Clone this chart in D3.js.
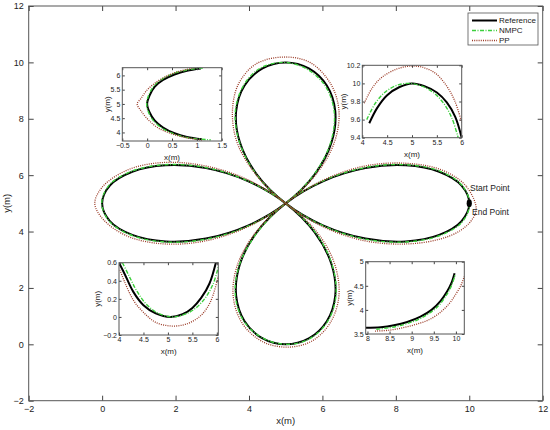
<!DOCTYPE html>
<html>
<head>
<meta charset="utf-8">
<script src="https://cdn.jsdelivr.net/npm/d3@7"></script>
<style>
  body { margin: 0; background: #fff; }
  svg { font-family: "Liberation Sans", Arial, sans-serif; }
</style>
</head>
<body>
<svg id="chart" width="550" height="430"></svg>
<script>
// ---- data (metres) ----
const seriesNames = ["Reference", "NMPC", "PP"];

// full clover trajectory
const refPath = [[10,5],[9.79,5.63],[9.18,6.12],[8.27,6.35],[7.17,6.25],[6.03,5.79],[5,5],
  [4.21,3.97],[3.75,2.83],[3.65,1.73],[3.88,0.82],[4.37,0.21],[5,0],[5.63,0.21],[6.12,0.82],
  [6.35,1.73],[6.25,2.83],[5.79,3.97],[5,5],[3.97,5.79],[2.83,6.25],[1.73,6.35],[0.82,6.12],
  [0.21,5.63],[0,5],[0.21,4.37],[0.82,3.88],[1.73,3.65],[2.83,3.75],[3.97,4.21],[5,5],
  [5.79,6.03],[6.25,7.17],[6.35,8.27],[6.12,9.18],[5.63,9.79],[5,10],[4.37,9.79],[3.88,9.18],
  [3.65,8.27],[3.75,7.17],[4.21,6.03],[5,5],[6.03,4.21],[7.17,3.75],[8.27,3.65],[9.18,3.88],[9.79,4.37]];
const nmpcPath = [[10.01,4.98],[9.8,5.64],[9.2,6.14],[8.28,6.37],[7.17,6.27],[6.02,5.8],[5,5],
  [4.22,3.96],[3.74,2.82],[3.63,1.72],[3.87,0.8],[4.42,0.19],[5.08,0],[5.68,0.22],[6.15,0.83],
  [6.37,1.74],[6.26,2.84],[5.8,3.98],[5,5],[3.96,5.8],[2.82,6.27],[1.71,6.37],[0.79,6.13],
  [0.18,5.63],[-0.01,5],[0.2,4.36],[0.82,3.86],[1.73,3.63],[2.83,3.73],[3.97,4.19],[5,5],
  [5.78,6.04],[6.23,7.18],[6.32,8.27],[6.07,9.18],[5.55,9.78],[4.95,10],[4.3,9.79],[3.85,9.18],
  [3.63,8.27],[3.74,7.17],[4.2,6.03],[5,5],[6.03,4.2],[7.17,3.73],[8.27,3.63],[9.18,3.85],[9.8,4.33]];
const ppPath = [[10.19,4.8],[9.92,5.6],[9.28,6.17],[8.3,6.42],[7.18,6.33],[6.05,5.84],[5,5],
  [4.17,3.95],[3.68,2.8],[3.57,1.7],[3.82,0.74],[4.36,0.1],[5.05,-0.1],[5.72,0.12],[6.22,0.78],
  [6.45,1.72],[6.33,2.86],[5.84,4],[5,5],[3.95,5.85],[2.8,6.33],[1.68,6.45],[0.72,6.2],
  [0.02,5.6],[-0.2,5],[0.05,4.4],[0.72,3.82],[1.7,3.56],[2.82,3.67],[3.97,4.17],[5,5],
  [5.84,6.05],[6.33,7.18],[6.45,8.3],[6.22,9.25],[5.66,10],[4.95,10.19],[4.2,9.95],[3.72,9.25],
  [3.55,8.3],[3.67,7.18],[4.17,6.05],[5,5],[6.05,4.15],[7.2,3.66],[8.3,3.56],[9.2,3.73],
  [9.75,4.03],[10.05,4.38]];

// zoom: left tip
const refLeft = [[1.08,6.24],[0.8,6.16],[0.55,6.03],[0.32,5.84],[0.15,5.6],[0.05,5.3],[0,5],
  [0.05,4.7],[0.15,4.42],[0.32,4.17],[0.55,3.97],[0.8,3.84],[1.1,3.76]];
const nmpcLeft = [[1.12,6.26],[0.8,6.19],[0.52,6.06],[0.3,5.87],[0.13,5.62],[0.03,5.3],[-0.01,5],
  [0.03,4.7],[0.13,4.4],[0.3,4.15],[0.55,3.94],[0.85,3.81],[1.28,3.74]];
const ppLeft = [[0.95,6.27],[0.6,6.12],[0.36,5.95],[0.15,5.72],[-0.02,5.45],[-0.12,5.2],[-0.2,5],
  [-0.12,4.75],[0.02,4.45],[0.2,4.18],[0.45,3.98],[0.75,3.83],[1.1,3.73]];

// zoom: top tip
const refTop = [[4.14,9.56],[4.3,9.73],[4.5,9.87],[4.75,9.96],[5,10],[5.25,9.97],[5.5,9.9],
  [5.7,9.79],[5.87,9.63],[6,9.4]];
const nmpcTop = [[4.09,9.6],[4.25,9.77],[4.45,9.9],[4.7,9.98],[4.95,10],[5.2,9.97],[5.45,9.89],
  [5.65,9.77],[5.8,9.62],[5.93,9.4]];
const ppTop = [[4.04,9.78],[4.2,9.95],[4.4,10.07],[4.7,10.16],[4.95,10.19],[5.2,10.18],[5.45,10.12],
  [5.66,10],[5.85,9.82],[6,9.57]];

// zoom: bottom tip
const refBottom = [[4,0.6],[4.12,0.47],[4.29,0.28],[4.5,0.13],[4.75,0.04],[5.05,0],[5.3,0.03],
  [5.5,0.1],[5.68,0.21],[5.85,0.37],[5.98,0.6]];
const nmpcBottom = [[4.07,0.6],[4.2,0.46],[4.36,0.29],[4.56,0.14],[4.8,0.04],[5.08,0],[5.35,0.03],
  [5.55,0.09],[5.75,0.2],[5.92,0.36],[6.03,0.55]];
const ppBottom = [[4.02,0.52],[4.12,0.38],[4.3,0.18],[4.5,0.05],[4.75,-0.06],[5.05,-0.1],[5.3,-0.09],
  [5.5,-0.05],[5.7,0.03],[5.88,0.18],[6.03,0.45]];

// zoom: right petal, lower side
const refRight = [[7.96,3.63],[8.3,3.64],[8.6,3.68],[8.9,3.75],[9.2,3.86],[9.45,4],[9.65,4.18],
  [9.8,4.38],[9.9,4.56],[9.97,4.76]];
const nmpcRight = [[8.2,3.6],[8.5,3.63],[8.8,3.69],[9.1,3.78],[9.35,3.9],[9.6,4.08],[9.78,4.3],
  [9.9,4.5],[9.98,4.72]];
const ppRight = [[8.17,3.56],[8.5,3.58],[8.8,3.63],[9.1,3.7],[9.4,3.8],[9.65,3.95],[9.85,4.13],
  [10,4.33],[10.12,4.52],[10.19,4.7]];

const startPoint = [10, 5];

// ticks
const mainTicks = [-2, 0, 2, 4, 6, 8, 10, 12];
const leftXTicks = [-0.5, 0, 0.5, 1, 1.5], leftYTicks = [4, 4.5, 5, 5.5, 6];
const topXTicks = [4, 4.5, 5, 5.5, 6], topYTicks = [9.4, 9.6, 9.8, 10, 10.2];
const bottomXTicks = [4, 4.5, 5, 5.5, 6], bottomYTicks = [-0.2, 0, 0.2, 0.4, 0.6];
const rightXTicks = [8, 8.5, 9, 9.5, 10], rightYTicks = [3.5, 4, 4.5, 5];

// ---- drawing ----
const svg = d3.select("#chart");
const styles = {
  Reference: { color: "#000", width: 2, dash: null },
  NMPC: { color: "#3ccf3c", width: 1.4, dash: "4,1.5,1,1.5" },
  PP: { color: "#9a3a26", width: 1.3, dash: "1,1.2" }
};
const fmt = d3.format("~g");
let clipN = 0;

function panel(box, xDom, yDom, xT, yT, series, o) {
  const x = d3.scaleLinear().domain(xDom).range([box.x0, box.x1]);
  const y = d3.scaleLinear().domain(yDom).range([box.y1, box.y0]);
  const g = svg.append("g");
  g.append("rect").attr("x", box.x0).attr("y", box.y0)
    .attr("width", box.x1 - box.x0).attr("height", box.y1 - box.y0).attr("fill", "#fff");

  const id = "clip" + (clipN++);
  g.append("clipPath").attr("id", id).append("rect")
    .attr("x", box.x0).attr("y", box.y0)
    .attr("width", box.x1 - box.x0).attr("height", box.y1 - box.y0);

  const line = d3.line().x(d => x(d[0])).y(d => y(d[1]))
    .curve(o.closed ? d3.curveCatmullRomClosed : d3.curveCatmullRom);
  const lines = g.append("g").attr("clip-path", `url(#${id})`);
  series.forEach((pts, i) => {
    const s = styles[seriesNames[i]];
    lines.append("path").datum(pts).attr("d", line)
      .attr("fill", "none").attr("stroke", s.color)
      .attr("stroke-width", s.width).attr("stroke-dasharray", s.dash);
  });

  const tk = o.tick;
  g.append("g").attr("transform", `translate(0,${box.y1})`)
    .call(d3.axisBottom(x).tickValues(xT).tickFormat(fmt).tickSizeInner(-tk).tickSizeOuter(0).tickPadding(o.pad));
  g.append("g").attr("transform", `translate(0,${box.y0})`)
    .call(d3.axisTop(x).tickValues(xT).tickFormat("").tickSizeInner(-tk).tickSizeOuter(0));
  g.append("g").attr("transform", `translate(${box.x0},0)`)
    .call(d3.axisLeft(y).tickValues(yT).tickFormat(fmt).tickSizeInner(-tk).tickSizeOuter(0).tickPadding(o.pad));
  g.append("g").attr("transform", `translate(${box.x1},0)`)
    .call(d3.axisRight(y).tickValues(yT).tickFormat("").tickSizeInner(-tk).tickSizeOuter(0));
  g.selectAll(".domain").remove();
  g.selectAll(".tick line").attr("stroke", "#444");
  g.selectAll(".tick text").attr("font-size", o.fs).attr("fill", "#222")
    .attr("font-family", "Liberation Sans, Arial, sans-serif");

  g.append("rect").attr("x", box.x0).attr("y", box.y0)
    .attr("width", box.x1 - box.x0).attr("height", box.y1 - box.y0)
    .attr("fill", "none").attr("stroke", "#555").attr("stroke-width", 1);

  g.append("text").attr("x", (box.x0 + box.x1) / 2).attr("y", box.y1 + o.xLab)
    .attr("text-anchor", "middle").attr("font-size", o.labFs).attr("fill", "#222").text("x(m)");
  g.append("text")
    .attr("transform", `translate(${box.x0 - o.yLab},${(box.y0 + box.y1) / 2}) rotate(-90)`)
    .attr("text-anchor", "middle").attr("dy", "0.35em")
    .attr("font-size", o.labFs).attr("fill", "#222").text("y(m)");
  return { x, y, g };
}

// main axes
const main = panel({ x0: 28.7, x1: 542.7, y0: 6, y1: 400.7 }, [-2, 12], [-2, 12],
  mainTicks, mainTicks, [refPath, nmpcPath, ppPath],
  { closed: true, tick: 5, pad: 5, fs: 9, labFs: 9.5, xLab: 23.5, yLab: 22 });

main.g.append("ellipse").attr("cx", main.x(startPoint[0])).attr("cy", main.y(startPoint[1]))
  .attr("rx", 2.6).attr("ry", 4).attr("fill", "#000");
main.g.append("text").attr("x", 470).attr("y", 191).attr("font-size", 8.5).attr("fill", "#222").text("Start Point");
main.g.append("text").attr("x", 472).attr("y", 215).attr("font-size", 8.5).attr("fill", "#222").text("End Point");

// insets
const insetOpt = { closed: false, tick: 2.5, pad: 2, fs: 7, labFs: 8, xLab: 19 };
panel({ x0: 122.3, x1: 221.7, y0: 67.7, y1: 141 }, [-0.5, 1.5], [3.7, 6.27],
  leftXTicks, leftYTicks, [refLeft, nmpcLeft, ppLeft], { ...insetOpt, yLab: 15.5 });
panel({ x0: 362.3, x1: 461.7, y0: 65.3, y1: 137.7 }, [4, 6], [9.4, 10.2],
  topXTicks, topYTicks, [refTop, nmpcTop, ppTop], { ...insetOpt, yLab: 19 });
panel({ x0: 119, x1: 218.3, y0: 262.7, y1: 335 }, [4, 6.03], [-0.2, 0.6],
  bottomXTicks, bottomYTicks, [refBottom, nmpcBottom, ppBottom], { ...insetOpt, yLab: 22 });
panel({ x0: 365.7, x1: 464.3, y0: 261.7, y1: 334 }, [7.96, 10.19], [3.5, 5],
  rightXTicks, rightYTicks, [refRight, nmpcRight, ppRight], { ...insetOpt, yLab: 16.5 });

// legend
const leg = svg.append("g");
leg.append("rect").attr("x", 468).attr("y", 13).attr("width", 70).attr("height", 32)
  .attr("fill", "#fff").attr("stroke", "#555").attr("stroke-width", 0.8);
seriesNames.forEach((name, i) => {
  const s = styles[name], yy = 20.5 + i * 10;
  leg.append("line").attr("x1", 472).attr("x2", 497).attr("y1", yy).attr("y2", yy)
    .attr("stroke", s.color).attr("stroke-width", s.width).attr("stroke-dasharray", s.dash);
  leg.append("text").attr("x", 499).attr("y", yy).attr("dy", "0.35em")
    .attr("font-size", 8).attr("fill", "#222").text(name);
});
</script>
</body>
</html>
